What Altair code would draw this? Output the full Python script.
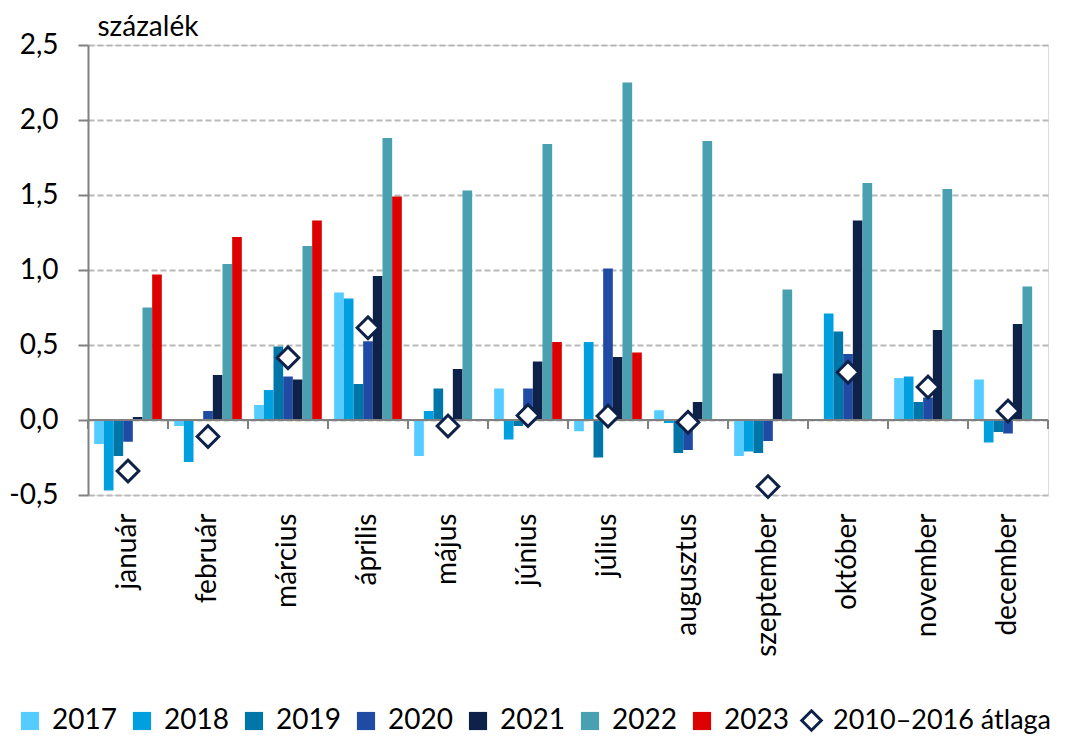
import altair as alt
import pandas as pd

months = ["január", "február", "március", "április", "május", "június",
          "július", "augusztus", "szeptember", "október", "november", "december"]
years = ["2017", "2018", "2019", "2020", "2021", "2022", "2023"]
colors = ["#55CCFF", "#009FE0", "#0076A8", "#1F4BA5", "#0E2149", "#48A0B0", "#DD0000"]

v2017 = [-0.16, -0.04, 0.10, 0.85, -0.24, 0.21, -0.075, 0.065, -0.24, 0.0, 0.28, 0.27]
v2018 = [-0.47, -0.28, 0.20, 0.81, 0.06, -0.13, 0.52, -0.02, -0.21, 0.71, 0.29, -0.15]
v2019 = [-0.24, 0.0, 0.49, 0.24, 0.21, -0.04, -0.25, -0.22, -0.22, 0.59, 0.12, -0.08]
v2020 = [-0.145, 0.06, 0.29, 0.525, 0.0, 0.21, 1.01, -0.20, -0.14, 0.44, 0.15, -0.09]
v2021 = [0.02, 0.30, 0.27, 0.96, 0.34, 0.39, 0.42, 0.12, 0.31, 1.33, 0.60, 0.64]
v2022 = [0.75, 1.04, 1.16, 1.88, 1.53, 1.84, 2.25, 1.86, 0.87, 1.58, 1.54, 0.89]
v2023 = [0.97, 1.22, 1.33, 1.49, None, 0.52, 0.45, None, None, None, None, None]
avg_label = "2010–2016 átlaga"
avg_2010_2016 = [-0.34, -0.11, 0.415, 0.615, -0.04, 0.03, 0.027, -0.015, -0.444, 0.318, 0.22, 0.06]

series = [v2017, v2018, v2019, v2020, v2021, v2022, v2023]
rows = []
for y, vals in zip(years, series):
    for m, v in zip(months, vals):
        if v is not None:
            rows.append({"month": m, "year": y, "value": v})
bars_df = pd.DataFrame(rows)
avg_df = pd.DataFrame({"month": months, "value": avg_2010_2016, "label": avg_label})
ticks_df = pd.DataFrame({"month": months})
last_df = pd.DataFrame({"month": months[-1:]})

FONT = "Lato"
NAVY = "#0E2149"
x_scale = alt.Scale(domain=months, paddingInner=0, paddingOuter=0)
y_scale = alt.Scale(domain=[-0.5, 2.5], nice=False, zero=False)

y_axis = alt.Axis(
    values=[-0.5, 0, 0.5, 1.0, 1.5, 2.0, 2.5],
    labelExpr="replace(replace(format(datum.value, '.1f'), '.', ','), '−', '-')",
    labelFontSize=28, labelFont=FONT, labelColor="black", labelPadding=20,
    tickSize=10, tickColor="#808080", tickWidth=2,
    domainColor="#808080", domainWidth=2,
    grid=True, gridColor="#B8B8B8", gridDash=[6, 3], gridWidth=2,
    title="százalék", titleAngle=0, titleAlign="left", titleBaseline="alphabetic",
    titleX=9, titleY=-10, titleFont=FONT, titleFontSize=28, titleFontWeight="normal",
    titleColor="black",
)
x_axis = alt.Axis(
    labelAngle=-90, labelFontSize=28, labelFont=FONT, labelColor="black",
    labelPadding=18, ticks=False, domain=False, grid=False, title=None,
)

bars = alt.Chart(bars_df).mark_bar().encode(
    x=alt.X("month:N", scale=x_scale, axis=x_axis, sort=months),
    xOffset=alt.XOffset("year:N", scale=alt.Scale(domain=years, paddingInner=0, paddingOuter=0.64)),
    y=alt.Y("value:Q", scale=y_scale, axis=y_axis),
    color=alt.Color(
        "year:N",
        scale=alt.Scale(domain=years, range=colors),
        legend=alt.Legend(
            orient="none", legendX=-72, legendY=662, direction="horizontal", columns=7,
            title=None, symbolType="square", symbolSize=330, symbolStrokeWidth=0,
            labelFont=FONT, labelFontSize=28, labelColor="black", labelOffset=8,
            columnPadding=11,
        ),
    ),
)

zero_line = alt.Chart(avg_df).mark_rule(color="#808080", strokeWidth=2).encode(
    y=alt.datum(0)
)

ticks_left = alt.Chart(ticks_df).mark_rule(color="#808080", strokeWidth=2).encode(
    x=alt.X("month:N", sort=months, bandPosition=0),
    y=alt.datum(0),
    y2=alt.datum(-0.06),
)
ticks_right = alt.Chart(last_df).mark_rule(color="#808080", strokeWidth=2).encode(
    x=alt.X("month:N", sort=months, bandPosition=1),
    y=alt.datum(0),
    y2=alt.datum(-0.06),
)

diamonds = alt.Chart(avg_df).mark_point(
    shape="diamond", filled=False, fill="white", fillOpacity=1, strokeWidth=3,
    size=470, opacity=1
).encode(
    x=alt.X("month:N", sort=months),
    y=alt.Y("value:Q"),
    stroke=alt.Stroke(
        "label:N",
        scale=alt.Scale(domain=[avg_label], range=[NAVY]),
        legend=alt.Legend(
            orient="none", legendX=710, legendY=662, title=None,
            symbolType="diamond", symbolSize=380, symbolFillColor="white",
            symbolStrokeWidth=3, symbolOpacity=1,
            labelFont=FONT, labelFontSize=27, labelColor="black",
            labelOffset=8, labelLimit=400,
        ),
    ),
)

chart = alt.layer(bars, zero_line, ticks_left, ticks_right, diamonds).properties(
    width=960, height=450,
    autosize=alt.AutoSizeParams(type="none"),
    padding={"left": 80, "top": 37, "right": 13, "bottom": 240},
).configure_view(stroke=None).configure(font=FONT)

chart.save("out.html", embed_options={"renderer": "svg", "actions": False})
